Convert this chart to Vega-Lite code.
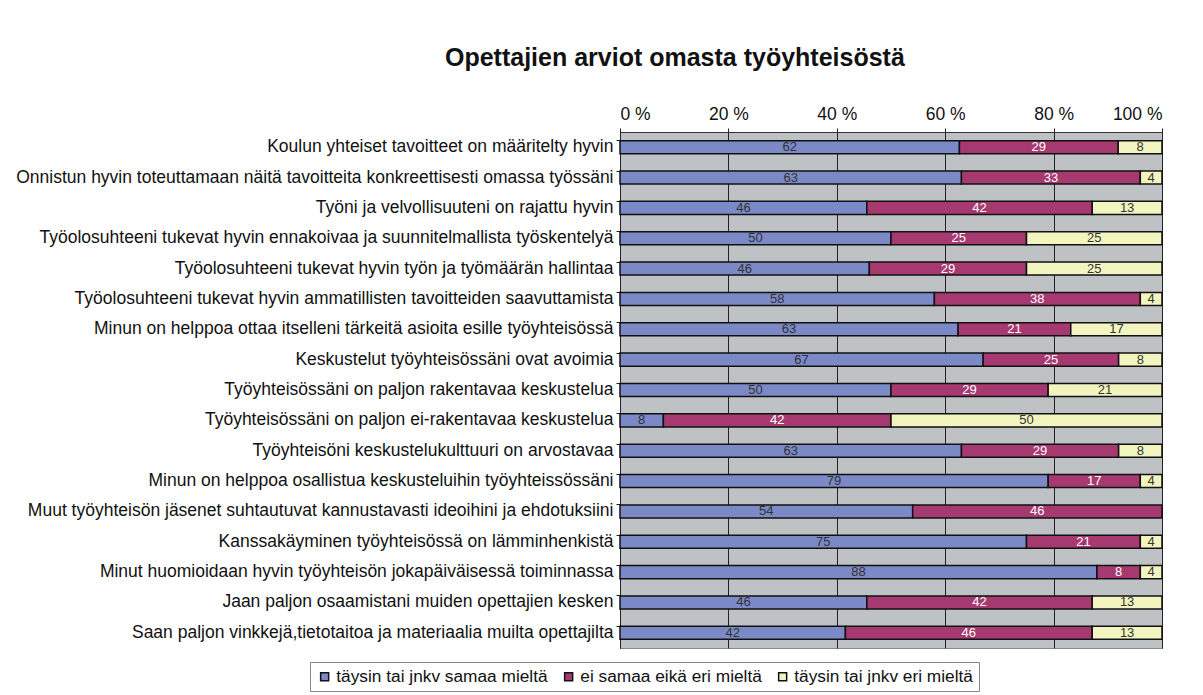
{
  "$schema": "https://vega.github.io/schema/vega-lite/v6.json",
  "autosize": {"type": "none"},
  "padding": {"left": 620, "top": 132, "right": 41, "bottom": 47},
  "width": 542,
  "height": 516,
  "background": "white",
  "view": {"fill": "#BEC2C5", "stroke": "#888", "strokeWidth": 1},
  "config": {
    "font": "Liberation Sans",
    "axis": {"labelFont": "Liberation Sans", "labelColor": "#111"}
  },
  "title": {
    "text": "Opettajien arviot omasta työyhteisöstä",
    "anchor": "start",
    "frame": "group",
    "dx": -175,
    "offset": 34,
    "fontSize": 25,
    "fontWeight": "bold",
    "font": "Liberation Sans",
    "color": "#111"
  },
  "data": {
    "values": [
      {"q": "Koulun yhteiset tavoitteet on määritelty hyvin", "cat": "täysin tai jnkv samaa mieltä", "k": 1, "v": 62},
      {"q": "Koulun yhteiset tavoitteet on määritelty hyvin", "cat": "ei samaa eikä eri mieltä", "k": 2, "v": 29},
      {"q": "Koulun yhteiset tavoitteet on määritelty hyvin", "cat": "täysin tai jnkv eri mieltä", "k": 3, "v": 8},
      {"q": "Onnistun hyvin toteuttamaan näitä tavoitteita konkreettisesti omassa työssäni", "cat": "täysin tai jnkv samaa mieltä", "k": 1, "v": 63},
      {"q": "Onnistun hyvin toteuttamaan näitä tavoitteita konkreettisesti omassa työssäni", "cat": "ei samaa eikä eri mieltä", "k": 2, "v": 33},
      {"q": "Onnistun hyvin toteuttamaan näitä tavoitteita konkreettisesti omassa työssäni", "cat": "täysin tai jnkv eri mieltä", "k": 3, "v": 4},
      {"q": "Työni ja velvollisuuteni on rajattu hyvin", "cat": "täysin tai jnkv samaa mieltä", "k": 1, "v": 46},
      {"q": "Työni ja velvollisuuteni on rajattu hyvin", "cat": "ei samaa eikä eri mieltä", "k": 2, "v": 42},
      {"q": "Työni ja velvollisuuteni on rajattu hyvin", "cat": "täysin tai jnkv eri mieltä", "k": 3, "v": 13},
      {"q": "Työolosuhteeni tukevat hyvin ennakoivaa ja suunnitelmallista työskentelyä", "cat": "täysin tai jnkv samaa mieltä", "k": 1, "v": 50},
      {"q": "Työolosuhteeni tukevat hyvin ennakoivaa ja suunnitelmallista työskentelyä", "cat": "ei samaa eikä eri mieltä", "k": 2, "v": 25},
      {"q": "Työolosuhteeni tukevat hyvin ennakoivaa ja suunnitelmallista työskentelyä", "cat": "täysin tai jnkv eri mieltä", "k": 3, "v": 25},
      {"q": "Työolosuhteeni tukevat hyvin työn ja työmäärän hallintaa", "cat": "täysin tai jnkv samaa mieltä", "k": 1, "v": 46},
      {"q": "Työolosuhteeni tukevat hyvin työn ja työmäärän hallintaa", "cat": "ei samaa eikä eri mieltä", "k": 2, "v": 29},
      {"q": "Työolosuhteeni tukevat hyvin työn ja työmäärän hallintaa", "cat": "täysin tai jnkv eri mieltä", "k": 3, "v": 25},
      {"q": "Työolosuhteeni tukevat hyvin ammatillisten tavoitteiden saavuttamista", "cat": "täysin tai jnkv samaa mieltä", "k": 1, "v": 58},
      {"q": "Työolosuhteeni tukevat hyvin ammatillisten tavoitteiden saavuttamista", "cat": "ei samaa eikä eri mieltä", "k": 2, "v": 38},
      {"q": "Työolosuhteeni tukevat hyvin ammatillisten tavoitteiden saavuttamista", "cat": "täysin tai jnkv eri mieltä", "k": 3, "v": 4},
      {"q": "Minun on helppoa ottaa itselleni tärkeitä asioita esille työyhteisössä", "cat": "täysin tai jnkv samaa mieltä", "k": 1, "v": 63},
      {"q": "Minun on helppoa ottaa itselleni tärkeitä asioita esille työyhteisössä", "cat": "ei samaa eikä eri mieltä", "k": 2, "v": 21},
      {"q": "Minun on helppoa ottaa itselleni tärkeitä asioita esille työyhteisössä", "cat": "täysin tai jnkv eri mieltä", "k": 3, "v": 17},
      {"q": "Keskustelut työyhteisössäni ovat avoimia", "cat": "täysin tai jnkv samaa mieltä", "k": 1, "v": 67},
      {"q": "Keskustelut työyhteisössäni ovat avoimia", "cat": "ei samaa eikä eri mieltä", "k": 2, "v": 25},
      {"q": "Keskustelut työyhteisössäni ovat avoimia", "cat": "täysin tai jnkv eri mieltä", "k": 3, "v": 8},
      {"q": "Työyhteisössäni on paljon rakentavaa keskustelua", "cat": "täysin tai jnkv samaa mieltä", "k": 1, "v": 50},
      {"q": "Työyhteisössäni on paljon rakentavaa keskustelua", "cat": "ei samaa eikä eri mieltä", "k": 2, "v": 29},
      {"q": "Työyhteisössäni on paljon rakentavaa keskustelua", "cat": "täysin tai jnkv eri mieltä", "k": 3, "v": 21},
      {"q": "Työyhteisössäni on paljon ei-rakentavaa keskustelua", "cat": "täysin tai jnkv samaa mieltä", "k": 1, "v": 8},
      {"q": "Työyhteisössäni on paljon ei-rakentavaa keskustelua", "cat": "ei samaa eikä eri mieltä", "k": 2, "v": 42},
      {"q": "Työyhteisössäni on paljon ei-rakentavaa keskustelua", "cat": "täysin tai jnkv eri mieltä", "k": 3, "v": 50},
      {"q": "Työyhteisöni keskustelukulttuuri on arvostavaa", "cat": "täysin tai jnkv samaa mieltä", "k": 1, "v": 63},
      {"q": "Työyhteisöni keskustelukulttuuri on arvostavaa", "cat": "ei samaa eikä eri mieltä", "k": 2, "v": 29},
      {"q": "Työyhteisöni keskustelukulttuuri on arvostavaa", "cat": "täysin tai jnkv eri mieltä", "k": 3, "v": 8},
      {"q": "Minun on helppoa osallistua keskusteluihin työyhteissössäni", "cat": "täysin tai jnkv samaa mieltä", "k": 1, "v": 79},
      {"q": "Minun on helppoa osallistua keskusteluihin työyhteissössäni", "cat": "ei samaa eikä eri mieltä", "k": 2, "v": 17},
      {"q": "Minun on helppoa osallistua keskusteluihin työyhteissössäni", "cat": "täysin tai jnkv eri mieltä", "k": 3, "v": 4},
      {"q": "Muut työyhteisön jäsenet suhtautuvat kannustavasti ideoihini ja ehdotuksiini", "cat": "täysin tai jnkv samaa mieltä", "k": 1, "v": 54},
      {"q": "Muut työyhteisön jäsenet suhtautuvat kannustavasti ideoihini ja ehdotuksiini", "cat": "ei samaa eikä eri mieltä", "k": 2, "v": 46},
      {"q": "Kanssakäyminen työyhteisössä on lämminhenkistä", "cat": "täysin tai jnkv samaa mieltä", "k": 1, "v": 75},
      {"q": "Kanssakäyminen työyhteisössä on lämminhenkistä", "cat": "ei samaa eikä eri mieltä", "k": 2, "v": 21},
      {"q": "Kanssakäyminen työyhteisössä on lämminhenkistä", "cat": "täysin tai jnkv eri mieltä", "k": 3, "v": 4},
      {"q": "Minut huomioidaan hyvin työyhteisön jokapäiväisessä toiminnassa", "cat": "täysin tai jnkv samaa mieltä", "k": 1, "v": 88},
      {"q": "Minut huomioidaan hyvin työyhteisön jokapäiväisessä toiminnassa", "cat": "ei samaa eikä eri mieltä", "k": 2, "v": 8},
      {"q": "Minut huomioidaan hyvin työyhteisön jokapäiväisessä toiminnassa", "cat": "täysin tai jnkv eri mieltä", "k": 3, "v": 4},
      {"q": "Jaan paljon osaamistani muiden opettajien kesken", "cat": "täysin tai jnkv samaa mieltä", "k": 1, "v": 46},
      {"q": "Jaan paljon osaamistani muiden opettajien kesken", "cat": "ei samaa eikä eri mieltä", "k": 2, "v": 42},
      {"q": "Jaan paljon osaamistani muiden opettajien kesken", "cat": "täysin tai jnkv eri mieltä", "k": 3, "v": 13},
      {"q": "Saan paljon vinkkejä,tietotaitoa ja materiaalia muilta opettajilta", "cat": "täysin tai jnkv samaa mieltä", "k": 1, "v": 42},
      {"q": "Saan paljon vinkkejä,tietotaitoa ja materiaalia muilta opettajilta", "cat": "ei samaa eikä eri mieltä", "k": 2, "v": 46},
      {"q": "Saan paljon vinkkejä,tietotaitoa ja materiaalia muilta opettajilta", "cat": "täysin tai jnkv eri mieltä", "k": 3, "v": 13}
    ]
  },
  "encoding": {
    "y": {
      "field": "q",
      "type": "nominal",
      "sort": null,
      "title": null,
      "scale": {"paddingInner": 0.57, "paddingOuter": 0.285},
      "axis": {
        "labelFontSize": 17.5,
        "labelLimit": 700,
        "labelPadding": 3,
        "tickSize": 4,
        "tickColor": "#222",
        "bandPosition": 0,
        "domainColor": "#222",
        "grid": false
      }
    },
    "x": {
      "field": "v",
      "type": "quantitative",
      "stack": "normalize",
      "title": null,
      "scale": {"domain": [0, 1], "nice": false},
      "axis": {
        "orient": "top",
        "values": [0, 0.2, 0.4, 0.6, 0.8, 1],
        "labelExpr": "format(datum.value * 100, 'd') + ' %'",
        "labelFontSize": 17.5,
        "labelPadding": 5,
        "tickSize": 4,
        "tickColor": "#222",
        "domainColor": "#333",
        "grid": true,
        "gridColor": "#222",
        "gridOpacity": 1,
        "gridWidth": 1
      }
    },
    "order": {"field": "k", "type": "quantitative"}
  },
  "layer": [
    {
      "mark": {"type": "bar", "stroke": "#111", "strokeWidth": 1.5},
      "encoding": {
        "color": {
          "field": "cat",
          "type": "nominal",
          "scale": {
            "domain": ["täysin tai jnkv samaa mieltä", "ei samaa eikä eri mieltä", "täysin tai jnkv eri mieltä"],
            "range": ["#7B89C6", "#A63970", "#F3F5C0"]
          },
          "legend": {
            "title": null,
            "orient": "none",
            "direction": "horizontal",
            "legendX": -310,
            "legendY": 530,
            "strokeColor": "#888",
            "padding": 6,
            "symbolType": "square",
            "symbolSize": 64,
            "symbolStrokeColor": "#111",
            "symbolStrokeWidth": 1.5,
            "symbolOpacity": 1,
            "labelFontSize": 17.3,
            "labelColor": "#111",
            "labelLimit": 400,
            "labelOffset": 3,
            "columnPadding": 12
          }
        }
      }
    },
    {
      "mark": {"type": "text", "fontSize": 13, "baseline": "middle", "align": "center"},
      "encoding": {
        "x": {"field": "v", "type": "quantitative", "stack": "normalize", "bandPosition": 0.5},
        "detail": {"field": "cat"},
        "text": {"field": "v", "type": "quantitative"},
        "color": {
          "condition": {"test": "datum.cat === 'ei samaa eikä eri mieltä'", "value": "white"},
          "value": "#333"
        }
      }
    }
  ]
}
